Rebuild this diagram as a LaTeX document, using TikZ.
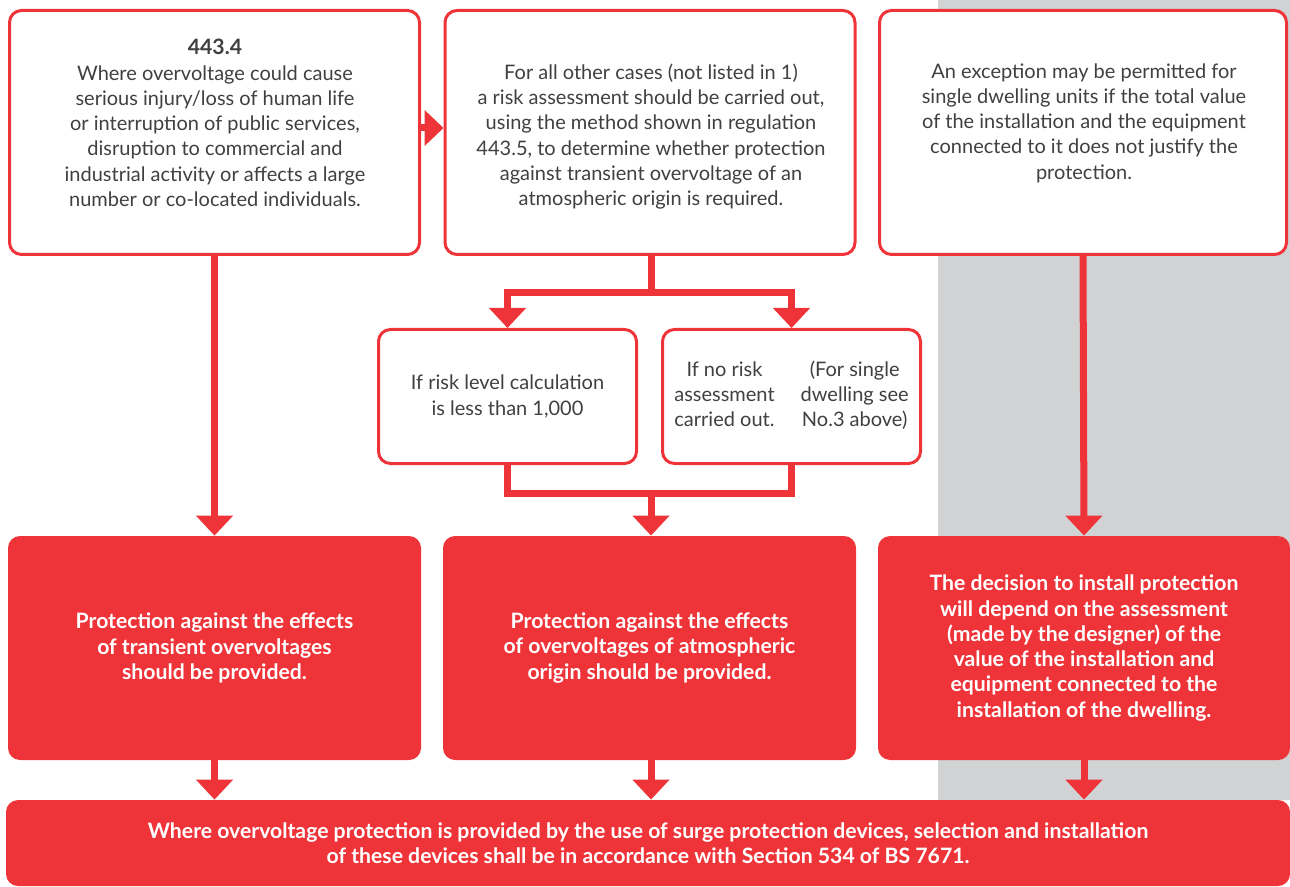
\documentclass[tikz,border=0pt]{standalone}
\usepackage{fontspec}
\setmainfont{Lato}
\usetikzlibrary{arrows.meta}
\definecolor{brand}{RGB}{239,52,57}
\definecolor{inkgray}{RGB}{64,64,66}
\definecolor{panelgray}{RGB}{209,210,212}

\begin{document}
\begin{tikzpicture}[x=0.5pt,y=-0.5pt,
    font=\fontsize{10}{12.65}\selectfont,
    rulebox/.style={draw=brand,line width=1.5pt,fill=white,rounded corners=6pt,
      minimum width=205pt,minimum height=122pt,inner sep=0pt},
    casebox/.style={draw=brand,line width=1.5pt,fill=white,rounded corners=6pt,
      minimum width=129pt,minimum height=67pt,align=center,text=inkgray},
    outbox/.style={fill=brand,rounded corners=6pt,minimum width=206.5pt,
      minimum height=112pt,align=center,text=white,font=\fontsize{10.6}{12.65}\selectfont\bfseries},
    bodytext/.style={align=center,text=inkgray},
    trunk/.style={draw=brand,line width=3.5pt},
    flow/.style={trunk,-{Triangle[width=18pt,length=10pt]}}]
  \useasboundingbox (0,0) rectangle (1290,887);
  % grey panel behind the dwelling column
  \fill[panelgray] (938,0) rectangle (1290,800);

  % top row
  \node[rulebox] (rule) at (214.5,132.5) {};
  \node[rulebox] (assess) at (650,132.5) {};
  \node[rulebox,minimum width=203.5pt] (dwelling) at (1083,132.5) {};
  \node[bodytext] (ruletext) at (215,123) {{\fontsize{10.6}{12.65}\selectfont\bfseries 443.4}\\
    Where overvoltage could cause\\ serious injury/loss of human life\\
    or interruption of public services,\\ disruption to commercial and\\
    industrial activity or affects a large\\ number or co-located individuals.};
  \node[bodytext] (assesstext) at (651,136.5) {For all other cases (not listed in 1)\\
    a risk assessment should be carried out,\\ using the method shown in regulation\\
    443.5, to determine whether protection\\ against transient overvoltage of an\\
    atmospheric origin is required.};
  \node[bodytext] (dwellingtext) at (1084,123) {An exception may be permitted for\\
    single dwelling units if the total value\\ of the installation and the equipment\\
    connected to it does not justify the\\ protection.};

  % risk cases
  \node[casebox] (risklow) at (507.5,396.5) {If risk level calculation\\ is less than 1,000};
  \node[casebox] (norisk) at (791.5,396.5) {\begin{tabular}{@{}c@{\hspace{13pt}}c@{}}
    If no risk & (For single\\ assessment & dwelling see\\ carried out. & No.3 above)
    \end{tabular}};

  % outcomes
  \node[outbox] (protect) at (214.5,648) {Protection against the effects\\
    of transient overvoltages\\ should be provided.};
  \node[outbox] (atmos) at (649.5,648) {Protection against the effects\\
    of overvoltages of atmospheric\\ origin should be provided.};
  \node[outbox,minimum width=206pt] (decide) at (1084,648) {The decision to install protection\\
    will depend on the assessment\\ (made by the designer) of the\\
    value of the installation and\\ equipment connected to the\\
    installation of the dwelling.};
  \node[outbox,minimum width=642pt,minimum height=43pt] (final) at (648,843)
    {Where overvoltage protection is provided by the use of surge protection devices, selection and installation\\
    of these devices shall be in accordance with Section 534 of BS 7671.};

  \coordinate (split) at (651,293);
  \coordinate (merge) at (651,493);

  % connectors
  \draw[flow,-{Triangle[width=17.5pt,length=9.5pt]}] (rule.east |- 0,128) -- (assess.west |- 0,128);
  \draw[flow] (rule.south) -- (protect.north);
  \draw[flow] (dwelling.south) -- (decide.north);
  \draw[trunk] (assess.south -| split) -- (split);
  \draw[flow] (split) -| (risklow.north);
  \draw[flow] (split) -| (norisk.north);
  \draw[trunk] (risklow.south) |- (merge);
  \draw[trunk] (norisk.south) |- (merge);
  \draw[flow] (merge) -- (atmos.north -| merge);
  \draw[flow] (protect.south) -- (protect.south |- final.north);
  \draw[flow] (atmos.south -| merge) -- (merge |- final.north);
  \draw[flow] (decide.south) -- (decide.south |- final.north);
\end{tikzpicture}
\end{document}
